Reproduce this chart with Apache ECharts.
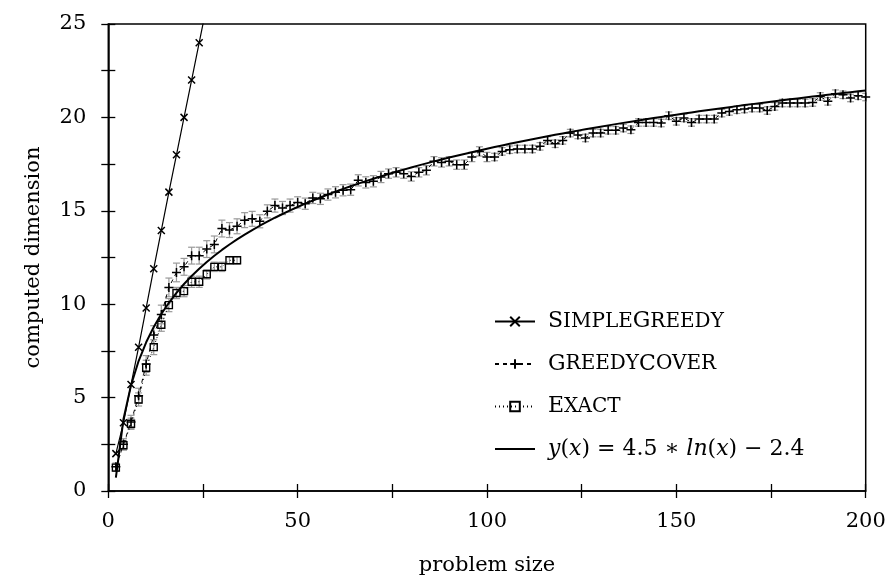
<!DOCTYPE html>
<html>
<head>
<meta charset="utf-8">
<script src="https://cdn.jsdelivr.net/npm/echarts@6/dist/echarts.min.js"></script>
<style>html,body{margin:0;padding:0;background:#fff}#c{width:889px;height:581px}</style>
</head>
<body>
<div id="c"></div>
<script>
// ---- data ----
var simpleX = [2, 4, 6, 8, 10, 12, 14, 16, 18, 20, 22, 24, 26];
var simpleY = [2.0, 3.65, 5.7, 7.7, 9.8, 11.9, 13.95, 16.0, 18.0, 20.0, 22.0, 24.0, 26.0];

var exactX = [2, 4, 6, 8, 10, 12, 14, 16, 18, 20, 22, 24, 26, 28, 30, 32, 34];
var exactY = [1.25, 2.45, 3.6, 4.9, 6.6, 7.7, 8.9, 9.95, 10.6, 10.7, 11.2, 11.2, 11.6, 12.0, 12.0, 12.35, 12.35];
var exactErr = [0.2, 0.25, 0.3, 0.35, 0.4, 0.4, 0.35, 0.35, 0.3, 0.3, 0.3, 0.3, 0.25, 0.25, 0.25, 0.2, 0.2];

var greedyX = [2, 4, 6, 8, 10, 12, 14, 16, 18, 20, 22, 24, 26, 28, 30, 32, 34, 36, 38, 40,
  42, 44, 46, 48, 50, 52, 54, 56, 58, 60, 62, 64, 66, 68, 70, 72, 74, 76, 78, 80,
  82, 84, 86, 88, 90, 92, 94, 96, 98, 100, 102, 104, 106, 108, 110, 112, 114, 116, 118, 120,
  122, 124, 126, 128, 130, 132, 134, 136, 138, 140, 142, 144, 146, 148, 150, 152, 154, 156, 158, 160,
  162, 164, 166, 168, 170, 172, 174, 176, 178, 180, 182, 184, 186, 188, 190, 192, 194, 196, 198, 200];
var greedyY = [1.3, 2.5, 3.7, 5.1, 6.8, 8.35, 9.45, 10.9, 11.7, 12.0, 12.6, 12.6, 12.95, 13.2, 14.05, 13.97, 14.17, 14.5, 14.57, 14.44,
  14.97, 15.28, 15.15, 15.28, 15.45, 15.38, 15.69, 15.64, 15.87, 15.99, 16.1, 16.13, 16.63, 16.52, 16.58, 16.81, 16.99, 17.06, 16.99, 16.84,
  17.06, 17.17, 17.65, 17.59, 17.65, 17.47, 17.47, 17.88, 18.18, 17.88, 17.88, 18.18, 18.27, 18.31, 18.31, 18.31, 18.45, 18.77, 18.59, 18.77,
  19.16, 19.06, 18.9, 19.16, 19.16, 19.31, 19.31, 19.43, 19.34, 19.73, 19.73, 19.73, 19.7, 20.09, 19.79, 19.97, 19.73, 19.91, 19.91, 19.91,
  20.23, 20.32, 20.41, 20.45, 20.5, 20.5, 20.37, 20.59, 20.77, 20.77, 20.77, 20.77, 20.8, 21.12, 20.86, 21.27, 21.21, 21.04, 21.16, 21.09];
var greedyErr = [0.2, 0.3, 0.35, 0.4, 0.45, 0.5, 0.5, 0.5, 0.5, 0.45, 0.45, 0.45, 0.45, 0.45, 0.45, 0.4, 0.4, 0.4, 0.4, 0.35,
  0.35, 0.35, 0.35, 0.35, 0.3, 0.3, 0.3, 0.3, 0.3, 0.3, 0.3, 0.3, 0.3, 0.3, 0.3, 0.3, 0.25, 0.25, 0.25, 0.25,
  0.25, 0.25, 0.25, 0.25, 0.25, 0.25, 0.25, 0.25, 0.25, 0.25, 0.2, 0.2, 0.2, 0.2, 0.2, 0.2, 0.2, 0.2, 0.2, 0.2,
  0.2, 0.2, 0.2, 0.2, 0.2, 0.2, 0.2, 0.2, 0.2, 0.2, 0.2, 0.2, 0.2, 0.2, 0.2, 0.2, 0.2, 0.2, 0.2, 0.2,
  0.2, 0.2, 0.2, 0.2, 0.2, 0.2, 0.2, 0.2, 0.2, 0.2, 0.2, 0.2, 0.2, 0.2, 0.2, 0.2, 0.2, 0.2, 0.2, 0.2];

// fitted curve y(x) = a*ln(x) + b, coefficients as printed in the legend
var fitCoeffs = [4.5, -2.4];
var fitX = greedyX;

var xTickLabels = ['0', '50', '100', '150', '200'];
var yTickLabels = ['0', '5', '10', '15', '20', '25'];

// ---- build ----
function pairs(xs, ys) { return xs.map(function (x, i) { return [x, ys[i]]; }); }
function errData(xs, ys, es) { return xs.map(function (x, i) { return [x, ys[i] - es[i], ys[i] + es[i]]; }); }
var fitData = fitX.map(function (x) { return [x, fitCoeffs[0] * Math.log(x) + fitCoeffs[1]]; });

var FONT = 'DejaVu Serif';
var FS = 21;

function errRender(params, api) {
  var x = api.value(0);
  var lo = api.coord([x, api.value(1)]);
  var hi = api.coord([x, api.value(2)]);
  var w = 3.5;
  var st = { stroke: '#999', lineWidth: 1.2 };
  return {
    type: 'group',
    children: [
      { type: 'line', shape: { x1: lo[0], y1: lo[1], x2: hi[0], y2: hi[1] }, style: st },
      { type: 'line', shape: { x1: lo[0] - w, y1: lo[1], x2: lo[0] + w, y2: lo[1] }, style: st },
      { type: 'line', shape: { x1: hi[0] - w, y1: hi[1], x2: hi[0] + w, y2: hi[1] }, style: st }
    ]
  };
}

var names = ['SimpleGreedy', 'GreedyCover', 'Exact', 'y(x) = 4.5 ∗ ln(x) − 2.4'];
var richNames = {
  'SimpleGreedy': '{c|S}{s|IMPLE}{c|G}{s|REEDY}',
  'GreedyCover': '{c|G}{s|REEDY}{c|C}{s|OVER}',
  'Exact': '{c|E}{s|XACT}',
  'y(x) = 4.5 ∗ ln(x) − 2.4': '{i|y}{c|(}{i|x}{c|) = 4.5 ∗ }{i|ln}{c|(}{i|x}{c|) − 2.4}'
};

var tickStyle = { show: true, inside: true, length: 7, lineStyle: { color: '#000', width: 1.3 } };

var option = {
  animation: false,
  backgroundColor: '#fff',
  grid: { left: 108.3, right: 23.3, top: 24, bottom: 89.3, show: true, borderColor: '#000', borderWidth: 1.5, backgroundColor: 'transparent' },
  xAxis: [{
    type: 'value', min: 0, max: 200, interval: 25,
    name: 'problem size', nameLocation: 'middle', nameGap: 64,
    nameTextStyle: { fontFamily: FONT, fontSize: FS, color: '#000' },
    axisLine: { show: true, lineStyle: { color: '#000', width: 1.5 } },
    axisTick: tickStyle,
    splitLine: { show: false },
    axisLabel: {
      margin: 20, fontFamily: FONT, fontSize: FS, color: '#000',
      formatter: function (v) { var i = xTickLabels.indexOf(String(v)); return i >= 0 ? xTickLabels[i] : ''; }
    }
  }, {
    type: 'value', min: 0, max: 200, interval: 25, position: 'top',
    axisLine: { show: false }, axisTick: tickStyle, axisLabel: { show: false }, splitLine: { show: false }
  }],
  yAxis: [{
    type: 'value', min: 0, max: 25, interval: 2.5,
    name: 'computed dimension', nameLocation: 'middle', nameGap: 64, nameRotate: 90,
    nameTextStyle: { fontFamily: FONT, fontSize: FS, color: '#000' },
    axisLine: { show: true, lineStyle: { color: '#000', width: 1.5 } },
    axisTick: tickStyle,
    splitLine: { show: false },
    axisLabel: {
      margin: 22, fontFamily: FONT, fontSize: FS, color: '#000',
      formatter: function (v) { var i = yTickLabels.indexOf(String(v)); return i >= 0 ? yTickLabels[i] : ''; }
    }
  }, {
    type: 'value', min: 0, max: 25, interval: 2.5, position: 'right',
    axisLine: { show: false }, axisTick: tickStyle, axisLabel: { show: false }, splitLine: { show: false }
  }],
  legend: {
    data: [names[0], names[1], names[2], { name: names[3], itemStyle: { opacity: 0 }, lineStyle: { width: 2 } }],
    orient: 'vertical',
    left: 489, top: 305.5,
    itemWidth: 40, itemHeight: 12, itemGap: 20.5,
    selectedMode: false,
    formatter: function (n) { return richNames[n]; },
    textStyle: {
      fontFamily: FONT, fontSize: 22, color: '#000', padding: [0, 0, 0, 8],
      rich: {
        c: { fontFamily: FONT, fontSize: 22, lineHeight: 24, color: '#000' },
        s: { fontFamily: FONT, fontSize: 20, lineHeight: 24, color: '#000' },
        i: { fontFamily: FONT, fontSize: 22, fontStyle: 'italic', lineHeight: 24, color: '#000' }
      }
    }
  },
  series: [
    { type: 'custom', name: 'errExact', renderItem: errRender, data: errData(exactX, exactY, exactErr), z: 1, silent: true, clip: true },
    { type: 'custom', name: 'errGreedy', renderItem: errRender, data: errData(greedyX, greedyY, greedyErr), z: 1, silent: true, clip: true },
    {
      type: 'line', name: names[3], data: fitData, symbol: 'none', clip: true, z: 5,
      lineStyle: { color: '#000', width: 2 }, itemStyle: { color: '#000' }
    },
    {
      type: 'line', name: names[0], data: pairs(simpleX, simpleY), clip: true, z: 4,
      symbol: 'path://M0,0L10,10M10,0L0,10', symbolSize: 7,
      lineStyle: { color: '#000', width: 1.2 },
      itemStyle: { color: '#000', borderColor: '#000', borderWidth: 1.5 }
    },
    {
      type: 'line', name: names[1], data: pairs(greedyX, greedyY), clip: true, z: 4,
      symbol: 'path://M5,0L5,10M0,5L10,5', symbolSize: 9,
      lineStyle: { color: '#000', width: 1, type: [4, 4] },
      itemStyle: { color: '#000', borderColor: '#000', borderWidth: 1.5 }
    },
    {
      type: 'line', name: names[2], data: pairs(exactX, exactY), clip: true, z: 4,
      symbol: 'path://M0,0L10,0L10,10L0,10Z', symbolSize: 7,
      lineStyle: { color: '#000', width: 1, type: [1, 3] },
      itemStyle: { color: 'rgba(0,0,0,0)', borderColor: '#000', borderWidth: 1.4 }
    }
  ]
};

var chart = echarts.init(document.getElementById('c'), null, { renderer: 'canvas' });
chart.setOption(option);
</script>
</body>
</html>
